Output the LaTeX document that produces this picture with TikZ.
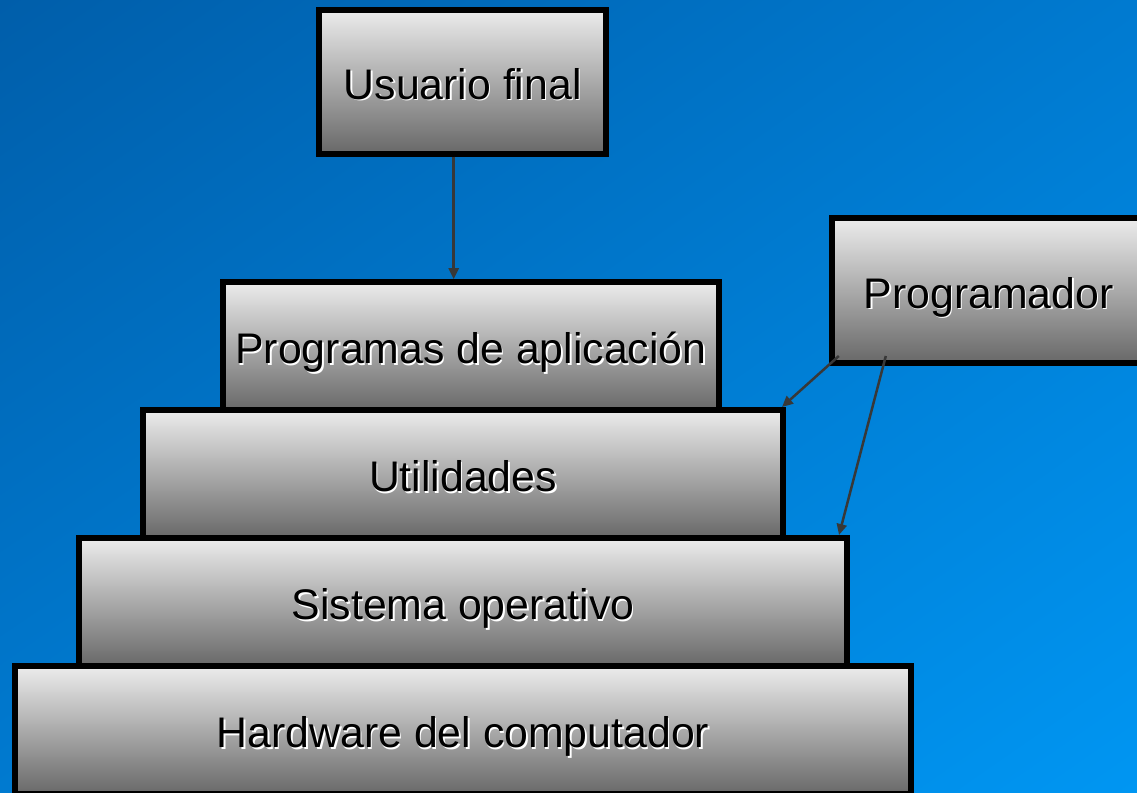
\documentclass[tikz,border=0pt]{standalone}
\usepackage{fontspec}
\setmainfont{Liberation Sans}
\usepackage{xcolor}
\usepackage{tikz}
\usetikzlibrary{arrows.meta, shadings}

\definecolor{fundoA}{RGB}{0,94,170}
\definecolor{fundoM}{RGB}{0,122,208}
\definecolor{fundoB}{RGB}{0,150,242}
\definecolor{cinzaA}{RGB}{236,236,236}
\definecolor{cinzaB}{RGB}{104,104,104}
\definecolor{fioCor}{RGB}{56,56,56}

% texto com sombra branca
\newcommand{\sombreado}[1]{\makebox[0pt][l]{\hspace{1.5pt}\raisebox{-1.5pt}{\color{white}#1}}#1}

\begin{document}
\begin{tikzpicture}[x=1pt, y=-1pt,
  caixa/.style={draw=black, line width=6pt, rectangle, top color=cinzaA, bottom color=cinzaB,
    inner sep=0pt, text height=40pt, text depth=5pt, font=\fontsize{42.8}{50}\selectfont},
  seta/.style={draw=fioCor, line width=2.5pt, -{Triangle[length=11pt,width=10pt]}}]
  % fundo azul
  \path[use as bounding box] (0,0) rectangle (1137,792);
  \clip (0,0) rectangle (1137,792);
  \shade[upper left=fundoA, upper right=fundoM, lower left=fundoM, lower right=fundoB]
    (0,0) rectangle (1137,792);
  % caixas
  \node[caixa, minimum width=287pt, minimum height=144pt] (usr) at (462.7,81.7) {\sombreado{Usuario final}};
  \node[caixa, minimum width=313.4pt, minimum height=145pt] (prg) at (988.5,290.5) {\sombreado{Programador}};
  \node[caixa, minimum width=495.7pt, minimum height=128pt] (app) at (470.9,346.2) {\sombreado{Programas de aplicación}};
  \node[caixa, minimum width=640pt, minimum height=128pt] (utl) at (463,474) {\sombreado{Utilidades}};
  \node[caixa, minimum width=768pt, minimum height=128pt] (sis) at (463,602) {\sombreado{Sistema operativo}};
  \node[caixa, minimum width=896.6pt, minimum height=128pt] (hw) at (463,730.3) {\sombreado{Hardware del computador}};
  % setas
  \draw[seta] ([xshift=-9pt]usr.south) -- ([xshift=-9pt]usr.south |- app.north);
  \draw[seta] ([xshift=10pt,yshift=10pt]prg.south west) -- ([xshift=-4pt]utl.north east);
  \draw[seta] ([xshift=57pt,yshift=10pt]prg.south west) -- ([xshift=-11pt]sis.north east);
\end{tikzpicture}
\end{document}
